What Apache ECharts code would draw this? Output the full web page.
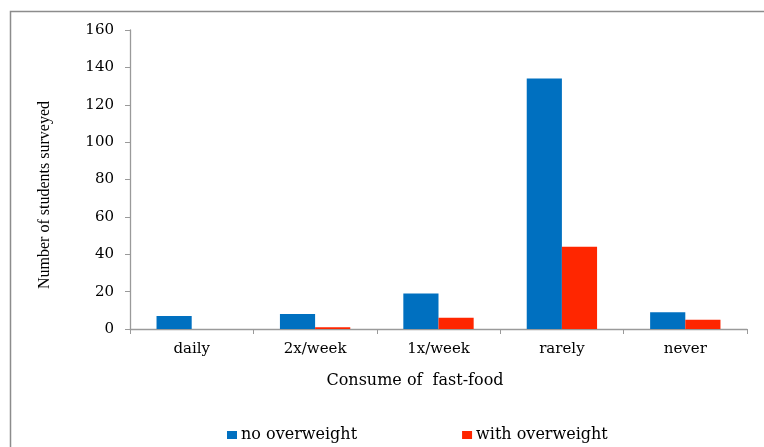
<!DOCTYPE html>
<html>
<head>
<meta charset="utf-8">
<script src="https://cdn.jsdelivr.net/npm/echarts@6/dist/echarts.min.js"></script>
<style>
  html, body { margin: 0; padding: 0; background: #fff; }
  #chart { width: 764px; height: 447px; }
</style>
</head>
<body>
<div id="chart"></div>
<script>
// Fast-food consumption frequency by weight group
const categories = ['daily', '2x/week', '1x/week', 'rarely', 'never'];
const noOverweight = [7, 8, 19, 134, 9];
const withOverweight = [0, 1, 6, 44, 5];
const yTicks = { min: 0, max: 160, interval: 20 };

const wideSerif = '"DejaVu Serif", "Liberation Serif", serif';
const serif = '"Liberation Serif", "DejaVu Serif", serif';
const axisGray = '#9a9a9a';

const chart = echarts.init(document.getElementById('chart'));
chart.setOption({
  animation: false,
  backgroundColor: '#fff',
  grid: { left: 130, right: 17, top: 30, bottom: 118, containLabel: false },
  legend: {
    data: ['no overweight', 'with overweight'],
    left: 222,
    top: 422,
    itemWidth: 10,
    itemHeight: 8,
    itemGap: 105,
    icon: 'rect',
    textStyle: { fontFamily: wideSerif, fontSize: 16, color: '#000', padding: [0, 0, 0, -1] }
  },
  xAxis: {
    type: 'category',
    data: categories,
    axisLine: { lineStyle: { color: axisGray, width: 1.3 } },
    axisTick: { show: true, length: 5, alignWithLabel: false, lineStyle: { color: axisGray } },
    axisLabel: { fontFamily: wideSerif, fontSize: 15, color: '#000', margin: 13 }
  },
  yAxis: {
    type: 'value',
    min: yTicks.min,
    max: yTicks.max,
    interval: yTicks.interval,
    splitLine: { show: false },
    axisLine: { show: true, lineStyle: { color: axisGray, width: 1.3 } },
    axisTick: { show: true, length: 5, lineStyle: { color: axisGray } },
    axisLabel: { fontFamily: wideSerif, fontSize: 15, color: '#000', margin: 16 }
  },
  series: [
    {
      name: 'no overweight',
      type: 'bar',
      data: noOverweight,
      barGap: '0%',
      barCategoryGap: '43%',
      itemStyle: { color: '#0070C0' }
    },
    {
      name: 'with overweight',
      type: 'bar',
      data: withOverweight,
      barGap: '0%',
      barCategoryGap: '43%',
      itemStyle: { color: '#FF2600' }
    }
  ],
  graphic: [
    // outer frame (top and left edges)
    {
      type: 'polyline',
      shape: { points: [[10.5, 447], [10.5, 11.5], [764, 11.5]] },
      style: { stroke: '#8c8c8c', lineWidth: 1.5, fill: null }
    },
    {
      type: 'text',
      x: 45,
      y: 195,
      rotation: Math.PI / 2,
      style: {
        text: 'Number of students surveyed',
        fontFamily: serif,
        fontSize: 16,
        fill: '#000',
        align: 'center',
        verticalAlign: 'middle'
      }
    },
    {
      type: 'text',
      x: 415,
      y: 381,
      style: {
        text: 'Consume of  fast-food',
        fontFamily: wideSerif,
        fontSize: 16,
        fill: '#000',
        align: 'center',
        verticalAlign: 'middle'
      }
    }
  ]
});
</script>
</body>
</html>
